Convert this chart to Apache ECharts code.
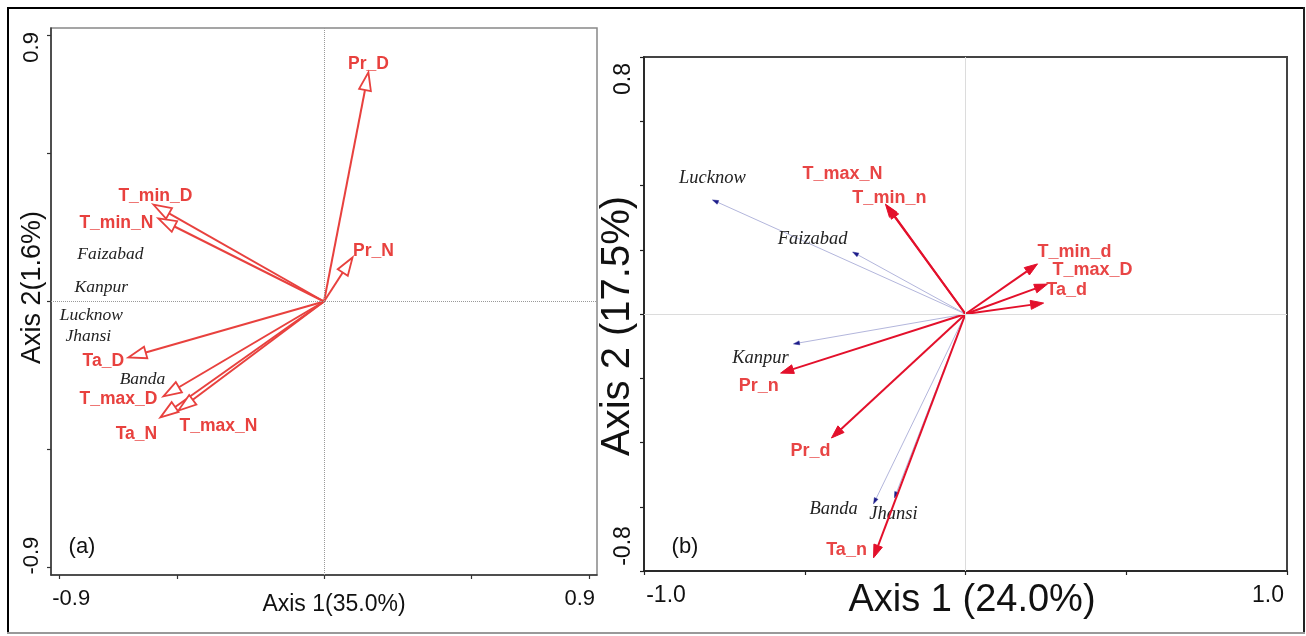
<!DOCTYPE html>
<html><head><meta charset="utf-8">
<script src="https://cdn.jsdelivr.net/npm/echarts@6/dist/echarts.min.js"></script>
<style>html,body{margin:0;padding:0;background:#fff}#c{width:1306px;height:636px}</style>
</head><body><div id="c"></div>
<script>
// ---------- Panel (a) data ----------
const varsA  = ['Pr_D','Pr_N','T_min_D','T_min_N','Ta_D','T_max_D','Ta_N','T_max_N'];
const varsAx = [0.151, 0.097, -0.580, -0.563, -0.665, -0.546, -0.556, -0.495];
const varsAy = [0.775, 0.149,  0.328,  0.281, -0.189, -0.321, -0.392, -0.369];
const sitesA  = ['Faizabad','Kanpur','Lucknow','Jhansi','Banda'];
const sitesAx = [-0.726, -0.757, -0.791, -0.801, -0.617];
const sitesAy = [ 0.159,  0.047, -0.047, -0.118, -0.264];
const ticksA  = [-0.9, -0.5, 0, 0.5, 0.9];
const labelsA = [-0.9, 0.9];
// ---------- Panel (b) data ----------
const varsB  = ['T_max_N','T_min_n','T_min_d','T_max_D','Ta_d','Pr_n','Pr_d','Ta_n'];
const varsBx = [-0.249, -0.243, 0.224, 0.255, 0.243, -0.575, -0.417, -0.286];
const varsBy = [ 0.342,  0.336, 0.156, 0.093, 0.034, -0.184, -0.386, -0.759];
const sitesB  = ['Lucknow','Faizabad','Kanpur','Banda','Jhansi'];
const sitesBx = [-0.787, -0.351, -0.535, -0.286, -0.221];
const sitesBy = [ 0.355,  0.193, -0.093, -0.591, -0.572];

// ---------- label layout (pixel offsets from arrow tips) ----------
const offA  = {Pr_D:[0,-8], Pr_N:[21,-6], T_min_D:[2,-8], T_min_N:[-42,5], Ta_D:[-25,4], T_max_D:[-45,3], Ta_N:[-24,17], T_max_N:[40,16]};
const offB  = {T_max_N:[-43,-30], T_min_n:[2,-8], T_min_d:[37,-12], T_max_D:[45,-14], Ta_d:[23,-13], Pr_n:[-22,13], Pr_d:[-21,13], Ta_n:[-27,-8]};
const offSB = {Lucknow:[0,-22], Faizabad:[-40,-13], Kanpur:[-33,14], Banda:[-40,5], Jhansi:[-1,16]};

const SANS = '"Liberation Sans", Arial, sans-serif';
const SERIF = '"Liberation Serif", "Times New Roman", serif';

function arrowSeries(gi, names, xs, ys, opt) {
  return {
    type: 'custom', xAxisIndex: gi, yAxisIndex: gi, z: opt.z || 3, clip: false,
    data: xs.map((x, i) => [x, ys[i]]),
    encode: {x: 0, y: 1},
    renderItem(params, api) {
      const i = params.dataIndex;
      const o = api.coord([0, 0]);
      const t = api.coord([api.value(0), api.value(1)]);
      const dx = t[0] - o[0], dy = t[1] - o[1];
      const L = Math.hypot(dx, dy) || 1, ux = dx / L, uy = dy / L;
      const bx = t[0] - ux * opt.headLen, by = t[1] - uy * opt.headLen;
      const nx = -uy * opt.headW / 2, ny = ux * opt.headW / 2;
      const children = [
        {type: 'line', shape: {x1: o[0], y1: o[1], x2: bx, y2: by},
         style: {stroke: opt.lineColor, lineWidth: opt.lineWidth}},
        {type: 'polygon', shape: {points: [[t[0], t[1]], [bx + nx, by + ny], [bx - nx, by - ny]]},
         style: {fill: opt.headFill, stroke: opt.headStroke, lineWidth: opt.headLineWidth, lineJoin: 'miter'}}
      ];
      if (opt.offsets) {
        const off = opt.offsets[names[i]] || [0, 0];
        children.push({type: 'text', style: {text: names[i], x: t[0] + off[0], y: t[1] + off[1],
          textAlign: 'center', textVerticalAlign: 'middle', font: opt.font, fill: opt.textColor}});
      }
      return {type: 'group', children};
    }
  };
}

function textSeries(gi, names, xs, ys, font, color) {
  return {
    type: 'custom', xAxisIndex: gi, yAxisIndex: gi, z: 2, clip: false,
    data: xs.map((x, i) => [x, ys[i]]),
    encode: {x: 0, y: 1},
    renderItem(params, api) {
      const p = api.coord([api.value(0), api.value(1)]);
      return {type: 'text', style: {text: names[params.dataIndex], x: p[0], y: p[1],
        textAlign: 'center', textVerticalAlign: 'middle', font, fill: color}};
    }
  };
}

function rich(size, pads) {
  const r = {};
  for (const k in pads) r[k] = {fontSize: size, fontFamily: SANS, color: '#111', padding: pads[k]};
  return r;
}

const chart = echarts.init(document.getElementById('c'), null, {renderer: 'canvas'});
const option = {
  animation: false,
  backgroundColor: '#fff',
  grid: [
    {left: 51, top: 28, width: 546, height: 547, show: true, borderColor: '#888', borderWidth: 1.5, outerBoundsMode: 'none', containLabel: false},
    {left: 644, top: 57, width: 643, height: 514, show: true, borderColor: '#444', borderWidth: 2, outerBoundsMode: 'none', containLabel: false}
  ],
  xAxis: [
    {gridIndex: 0, type: 'value', min: -0.928, max: 0.928,
     axisLine: {show: true, onZero: false, lineStyle: {color: '#333', width: 1.5}},
     axisTick: {show: true, customValues: ticksA, length: 4, lineStyle: {color: '#333', width: 1.2}},
     axisLabel: {customValues: labelsA, margin: 13,
       formatter: v => v < 0 ? '{l|' + v.toFixed(1) + '}' : '{r|' + v.toFixed(1) + '}',
       rich: rich(22, {l: [0, 0, 0, 24], r: [0, 18, 0, 0]})},
     splitLine: {show: false},
     name: 'Axis 1(35.0%)', nameLocation: 'middle', nameGap: 18, nameMoveOverlap: false,
     nameTextStyle: {fontSize: 23, fontFamily: SANS, color: '#111', padding: [0, 0, 0, 20]}},
    {gridIndex: 1, type: 'value', min: -1, max: 1, interval: 0.5,
     axisLine: {show: true, onZero: false, lineStyle: {color: '#222', width: 1.5}},
     axisTick: {show: true, length: 4, lineStyle: {color: '#222', width: 1.2}},
     axisLabel: {margin: 13,
       formatter: v => Math.abs(v + 1) < 1e-6 ? '{l|-1.0}' : (Math.abs(v - 1) < 1e-6 ? '{r|1.0}' : ''),
       rich: rich(23, {l: [0, 0, 0, 44], r: [0, 38, 0, 0]})},
     splitLine: {show: false},
     name: 'Axis 1 (24.0%)', nameLocation: 'middle', nameGap: 11, nameMoveOverlap: false,
     nameTextStyle: {fontSize: 38, fontFamily: SANS, color: '#111', padding: [0, 0, 0, 13]}}
  ],
  yAxis: [
    {gridIndex: 0, type: 'value', min: -0.925, max: 0.925,
     axisLine: {show: true, onZero: false, lineStyle: {color: '#333', width: 1.5}},
     axisTick: {show: true, customValues: ticksA, length: 4, lineStyle: {color: '#333', width: 1.2}},
     axisLabel: {customValues: labelsA, margin: 8, rotate: 90,
       formatter: v => v < 0 ? '{b|' + v.toFixed(1) + '}' : '{t|' + v.toFixed(1) + '}',
       rich: rich(22, {t: [0, 24, 0, 0], b: [0, 0, 0, 24]})},
     splitLine: {show: false},
     name: 'Axis 2(1.6%)', nameLocation: 'middle', nameGap: 5, nameMoveOverlap: false,
     nameTextStyle: {fontSize: 27, fontFamily: SANS, color: '#111', padding: [0, 0, 0, 28]}},
    {gridIndex: 1, type: 'value', min: -0.8, max: 0.8, interval: 0.2,
     axisLine: {show: true, onZero: false, lineStyle: {color: '#222', width: 1.5}},
     axisTick: {show: true, length: 4, lineStyle: {color: '#222', width: 1.2}},
     axisLabel: {margin: 9, rotate: 90,
       formatter: v => Math.abs(v - 0.8) < 1e-6 ? '{t|0.8}' : (Math.abs(v + 0.8) < 1e-6 ? '{b|-0.8}' : ''),
       rich: rich(23, {t: [0, 44, 0, 0], b: [0, 0, 0, 50]})},
     splitLine: {show: false},
     name: 'Axis 2 (17.5%)', nameLocation: 'middle', nameGap: 6, nameMoveOverlap: false,
     nameTextStyle: {fontSize: 40, fontFamily: SANS, color: '#111', padding: [0, 24, 0, 0]}}
  ],
  series: [
    {type: 'line', xAxisIndex: 0, yAxisIndex: 0, data: [[0, 0]], symbol: 'none', lineStyle: {opacity: 0}, z: 1,
     markLine: {silent: true, symbol: ['none', 'none'], label: {show: false},
       lineStyle: {color: '#999', type: 'dotted', width: 1}, data: [{xAxis: 0}, {yAxis: 0}]}},
    {type: 'line', xAxisIndex: 1, yAxisIndex: 1, data: [[0, 0]], symbol: 'none', lineStyle: {opacity: 0}, z: 1,
     markLine: {silent: true, symbol: ['none', 'none'], label: {show: false},
       lineStyle: {color: '#dcdcdc', type: 'solid', width: 1}, data: [{xAxis: 0}, {yAxis: 0}]}},
    textSeries(0, sitesA, sitesAx, sitesAy, 'italic 17.5px ' + SERIF, '#222'),
    arrowSeries(0, varsA, varsAx, varsAy, {headLen: 18, headW: 12, lineColor: '#e8413e', lineWidth: 2,
      headFill: '#fff', headStroke: '#e8413e', headLineWidth: 1.8, offsets: offA,
      font: 'bold 17.5px ' + SANS, textColor: '#e8413e'}),
    arrowSeries(1, sitesB, sitesBx, sitesBy, {headLen: 6, headW: 4, lineColor: '#b3b6dc', lineWidth: 1,
      headFill: '#1c1c8a', headStroke: '#1c1c8a', headLineWidth: 0.5, offsets: offSB,
      font: 'italic 18.5px ' + SERIF, textColor: '#222', z: 2}),
    arrowSeries(1, varsB, varsBx, varsBy, {headLen: 13, headW: 9, lineColor: '#e3102b', lineWidth: 2,
      headFill: '#e3102b', headStroke: '#e3102b', headLineWidth: 1, offsets: offB,
      font: 'bold 18px ' + SANS, textColor: '#e84545', z: 3})
  ],
  graphic: [
    {type: 'line', shape: {x1: 7, y1: 8, x2: 1305, y2: 8}, style: {stroke: '#000', lineWidth: 2}},
    {type: 'line', shape: {x1: 8, y1: 7, x2: 8, y2: 634}, style: {stroke: '#000', lineWidth: 2}},
    {type: 'line', shape: {x1: 1304, y1: 7, x2: 1304, y2: 634}, style: {stroke: '#222', lineWidth: 2}},
    {type: 'line', shape: {x1: 7, y1: 633, x2: 1305, y2: 633}, style: {stroke: '#999', lineWidth: 2}},
    {type: 'text', style: {text: '(a)', x: 82, y: 547, textAlign: 'center', textVerticalAlign: 'middle', font: '22px ' + SANS, fill: '#111'}},
    {type: 'text', style: {text: '(b)', x: 685, y: 547, textAlign: 'center', textVerticalAlign: 'middle', font: '22px ' + SANS, fill: '#111'}}
  ]
};
chart.setOption(option);
</script></body></html>
